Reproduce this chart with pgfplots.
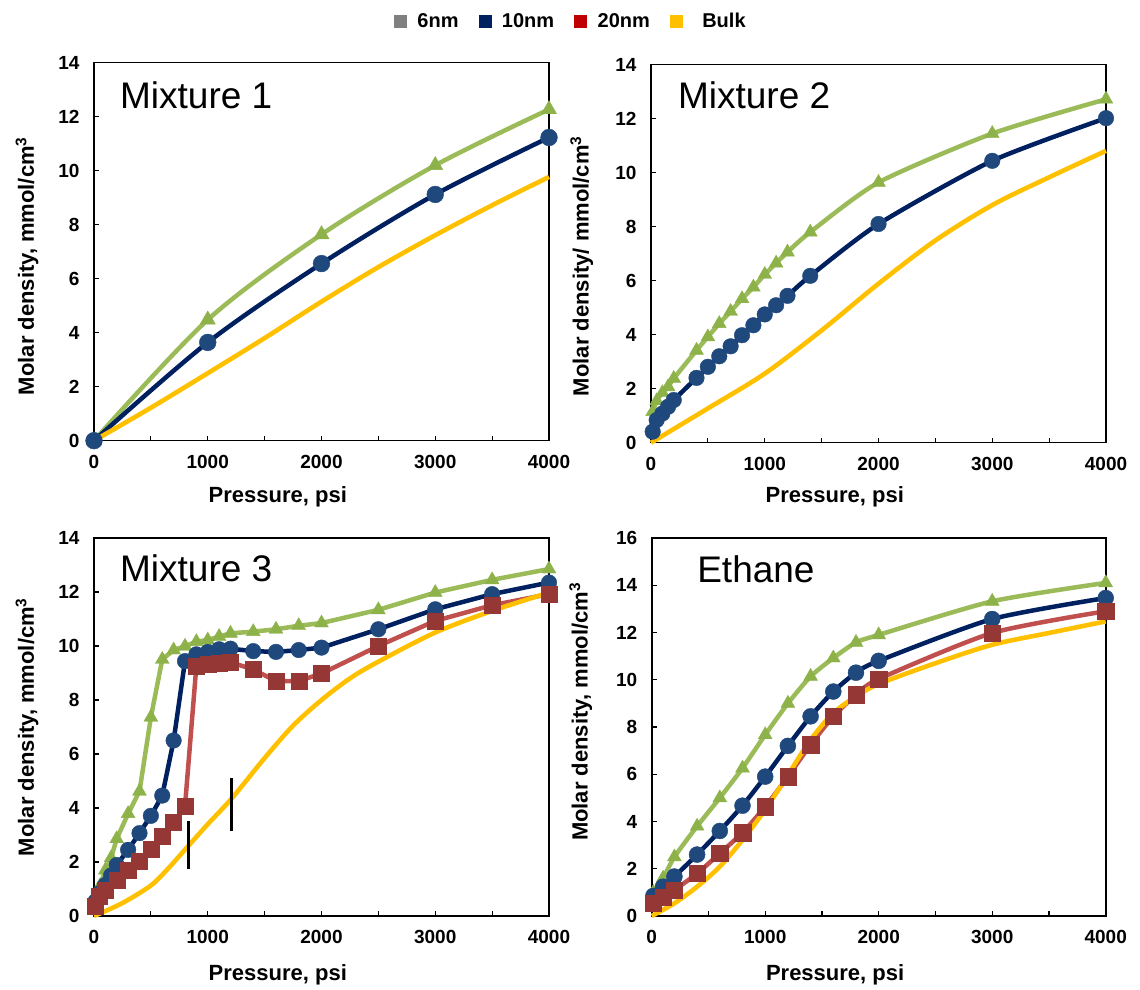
\documentclass[border=0pt]{standalone}
\usepackage{fontspec}
\setmainfont{Liberation Sans}
\usepackage{pgfplots}
\pgfplotsset{compat=1.18}

\definecolor{navyline}{HTML}{002060}
\definecolor{navymark}{HTML}{1F497D}
\definecolor{greenline}{HTML}{9BBB59}
\definecolor{greenmark}{HTML}{8DB249}
\definecolor{redline}{HTML}{C0504D}
\definecolor{redmark}{HTML}{953735}
\definecolor{bulkc}{HTML}{FFC000}
\definecolor{leggray}{HTML}{808080}
\definecolor{legred}{HTML}{C00000}

\tikzset{ptitle/.style={anchor=base west, inner sep=0pt, font=\fontsize{37}{40}\selectfont}}

\pgfplotsset{
  panel/.style={
    scale only axis, width=455pt, height=378pt,
    xmin=0, xmax=4000, ymin=0,
    xtick={0,1000,2000,3000,4000}, minor xtick={500,1500,2500,3500},
    tick pos=left, tick align=inside,
    major tick length=5pt, minor tick length=5pt,
    tick style={black, line width=1.2pt},
    axis line style={black, line width=1.6pt},
    ticklabel style={font=\fontsize{19}{20}\selectfont\bfseries},
    /pgf/number format/assume math mode=true,
    /pgf/number format/1000 sep={},
    yticklabel style={xshift=-11pt},
    xticklabel style={yshift=-11pt},
    label style={font=\fontsize{22}{24}\selectfont\bfseries},
    xlabel={Pressure, psi},
    clip=false,
  },
  gser/.style={color=greenline, line width=4.5pt, mark=triangle*, mark size=8.8pt,
    mark options={fill=greenmark, draw=greenmark, line width=0.4pt}},
  bser/.style={color=navyline, line width=4.5pt, mark=*, mark size=8.4pt,
    mark options={fill=navymark, draw=navymark, line width=0.4pt}},
  rser/.style={color=redline, line width=4.5pt, mark=square*, mark size=8pt,
    mark options={fill=redmark, draw=redmark, line width=0.4pt}},
  yser/.style={color=bulkc, line width=4.6pt, no markers},
}

\begin{document}
\begin{tikzpicture}
\useasboundingbox (0,0) rectangle (1140pt,990pt);

% ---------------- Mixture 1 ----------------
\begin{axis}[panel, at={(94pt,549.3pt)}, anchor=south west,
  ymax=14, ytick={0,2,...,14},
  ylabel={Molar density, mmol/cm\textsuperscript{3}},
  ylabel style={at={(axis description cs:-0.147,0.462)}, anchor=center},
  xlabel style={at={(axis description cs:0.404,-0.148)}, anchor=center},
  legend style={at={(axis description cs:1.048,1.110)}, anchor=center,
    draw=none, fill=none, legend columns=4,
    font=\fontsize{20}{22}\selectfont\bfseries,
    /tikz/every odd column/.append style={column sep=9pt},
    /tikz/every even column/.append style={column sep=18pt}},
]
\addlegendimage{legend image code/.code={\fill[leggray] (0pt,-6pt) rectangle (12pt,6pt);}}
\addlegendentry{6nm}
\addlegendimage{legend image code/.code={\fill[navyline] (0pt,-6pt) rectangle (12pt,6pt);}}
\addlegendentry{10nm}
\addlegendimage{legend image code/.code={\fill[legred] (0pt,-6pt) rectangle (12pt,6pt);}}
\addlegendentry{20nm}
\addlegendimage{legend image code/.code={\fill[bulkc] (0pt,-6pt) rectangle (12pt,6pt);}}
\addlegendentry{\hspace{9pt}Bulk}
\addplot[gser, smooth, forget plot] coordinates {(0,0) (1000,4.48) (2000,7.64) (3000,10.2) (4000,12.27)};
\addplot[bser, smooth, forget plot] coordinates {(0,0) (1000,3.64) (2000,6.56) (3000,9.12) (4000,11.23)};
\addplot[yser, smooth, forget plot] coordinates {(0,0) (500,1.22) (1000,2.5) (1500,3.8) (2000,5.15) (2500,6.43) (3000,7.61) (3500,8.72) (4000,9.77)};
\node[ptitle] at (axis description cs:0.057,0.880) {Mixture 1};
\end{axis}

% ---------------- Mixture 2 ----------------
\begin{axis}[panel, at={(651pt,547.3pt)}, anchor=south west,
  ymax=14, ytick={0,2,...,14},
  ylabel={Molar density/ mmol/cm\textsuperscript{3}},
  ylabel style={at={(axis description cs:-0.152,0.467)}, anchor=center},
  xlabel style={at={(axis description cs:0.404,-0.143)}, anchor=center},
]
\addplot[gser, mark size=8pt, smooth, tension=0.4] coordinates {(14.7,1.15) (50,1.55) (100,1.85) (150,2.07) (200,2.38) (400,3.42) (500,3.92) (600,4.41) (700,4.86) (800,5.33) (900,5.76) (1000,6.23) (1100,6.65) (1200,7.06) (1400,7.8) (2000,9.64) (3000,11.45) (4000,12.72)};
\addplot[bser, mark size=7.8pt, smooth, tension=0.4] coordinates {(14.7,0.41) (50,0.84) (100,1.08) (150,1.33) (200,1.58) (400,2.4) (500,2.81) (600,3.2) (700,3.57) (800,3.98) (900,4.35) (1000,4.75) (1100,5.09) (1200,5.44) (1400,6.18) (2000,8.1) (3000,10.44) (4000,12.02)};
\addplot[yser, smooth] coordinates {(0,0) (500,1.27) (1000,2.56) (1500,4.16) (2000,5.89) (2500,7.49) (3000,8.8) (3500,9.83) (4000,10.81)};
\node[ptitle] at (axis description cs:0.059,0.883) {Mixture 2};
\end{axis}

% ---------------- Mixture 3 ----------------
\begin{axis}[panel, at={(94pt,74pt)}, anchor=south west,
  ymax=14, ytick={0,2,...,14},
  ylabel={Molar density, mmol/cm\textsuperscript{3}},
  ylabel style={at={(axis description cs:-0.147,0.5)}, anchor=center},
  xlabel style={at={(axis description cs:0.404,-0.156)}, anchor=center},
]
\addplot[gser, mark size=8pt] coordinates {(14.7,0.75) (50,1.1) (100,1.7) (150,2.15) (200,2.86) (300,3.79) (400,4.62) (500,7.36) (600,9.5) (700,9.85) (800,9.99) (900,10.16) (1000,10.22) (1100,10.35) (1200,10.47) (1400,10.53) (1600,10.62) (1800,10.75) (2000,10.85) (2500,11.34) (3000,11.98) (3500,12.45) (4000,12.85)};
\addplot[bser, mark size=7.8pt] coordinates {(14.7,0.55) (50,0.85) (100,1.15) (150,1.5) (200,1.89) (300,2.45) (400,3.07) (500,3.71) (600,4.46) (700,6.5) (800,9.44) (900,9.69) (1000,9.78) (1100,9.88) (1200,9.9) (1400,9.81) (1600,9.78) (1800,9.85) (2000,9.94) (2500,10.62) (3000,11.36) (3500,11.92) (4000,12.35)};
\addplot[rser] coordinates {(14.7,0.35) (50,0.72) (100,0.97) (200,1.34) (300,1.68) (400,2.04) (500,2.47) (600,2.97) (700,3.46) (800,4.07) (900,9.26) (1000,9.32) (1100,9.36) (1200,9.4) (1400,9.13) (1600,8.7) (1800,8.7) (2000,8.98) (2500,10.0) (3000,10.93) (3500,11.51) (4000,11.92)};
\addplot[yser, smooth, tension=0.5] coordinates {(0,0) (250,0.48) (500,1.13) (650,1.75) (830,2.6) (1000,3.4) (1210,4.35) (1500,5.85) (1750,7.05) (2000,8.0) (2250,8.8) (2500,9.42) (3000,10.5) (3500,11.3) (4000,11.98)};
\addplot[black, line width=3.2pt] coordinates {(829,1.73) (829,3.5)};
\addplot[black, line width=3.2pt] coordinates {(1210,3.13) (1210,5.11)};
\node[ptitle] at (axis description cs:0.057,0.884) {Mixture 3};
\end{axis}

% ---------------- Ethane ----------------
\begin{axis}[panel, at={(651.7pt,74pt)}, anchor=south west, width=454pt,
  ymax=16, ytick={0,2,...,16},
  ylabel={Molar density, mmol/cm\textsuperscript{3}},
  ylabel style={at={(axis description cs:-0.156,0.54)}, anchor=center},
  xlabel style={at={(axis description cs:0.404,-0.156)}, anchor=center},
]
\addplot[gser, mark size=8pt, smooth, tension=0.4] coordinates {(14.7,1.0) (100,1.6) (200,2.5) (400,3.8) (600,5.0) (800,6.26) (1000,7.67) (1200,9.0) (1400,10.14) (1600,10.92) (1800,11.58) (2000,11.9) (3000,13.32) (4000,14.1)};
\addplot[bser, mark size=8pt, smooth, tension=0.4] coordinates {(14.7,0.85) (100,1.24) (200,1.67) (400,2.6) (600,3.6) (800,4.67) (1000,5.9) (1200,7.2) (1400,8.45) (1600,9.5) (1800,10.3) (2000,10.8) (3000,12.57) (4000,13.46)};
\addplot[rser, mark size=8.2pt, smooth, tension=0.4] coordinates {(14.7,0.54) (100,0.8) (200,1.1) (400,1.8) (600,2.65) (800,3.53) (1000,4.63) (1200,5.9) (1400,7.25) (1600,8.45) (1800,9.36) (2000,10.03) (3000,11.98) (4000,12.9)};
\addplot[yser, smooth] coordinates {(0,0) (200,0.54) (400,1.24) (600,2.09) (800,3.22) (1000,4.5) (1200,5.97) (1400,7.46) (1600,8.59) (1800,9.29) (2000,9.82) (2500,10.7) (3000,11.48) (3500,11.98) (4000,12.47)};
\node[ptitle] at (axis description cs:0.100,0.882) {Ethane};
\end{axis}
\end{tikzpicture}
\end{document}
